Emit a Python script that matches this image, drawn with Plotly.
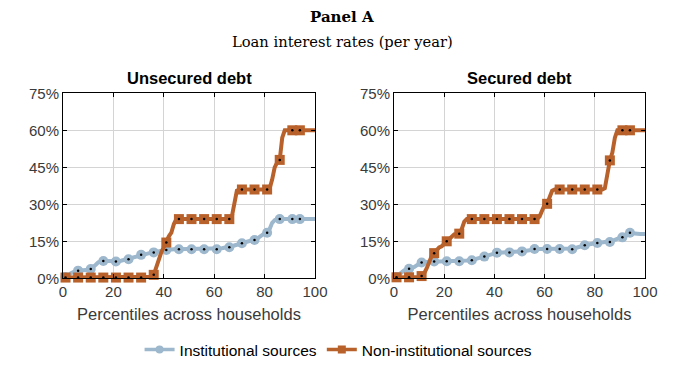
import plotly.graph_objects as go

# Percentiles 0..100
percentiles = list(range(101))

# Unsecured debt - Institutional sources (% per year)
unsec_inst = [0, 0.5, 1.2, 2, 2.7, 3, 3.1, 3.1, 3.2, 3.3,
              3.5, 3.8, 4.5, 5.5, 6.5, 6.9, 7, 7, 6.9, 6.8,
              6.8, 6.8, 6.9, 7.1, 7.4, 7.6, 7.7, 8, 8.5, 9,
              9.3, 9.5, 9.8, 10.1, 10.3, 10.4, 10.5, 10.8, 11.1, 11.3,
              11.4, 11.5, 11.7, 11.8, 11.8, 11.8, 11.8, 11.8, 11.8, 11.8,
              11.8, 11.8, 11.8, 11.8, 11.8, 11.8, 11.8, 11.8, 11.8, 11.8,
              11.8, 11.8, 12, 12.2, 12.4, 12.5, 12.6, 12.9, 13.3, 13.7,
              14, 14.2, 14.5, 14.8, 15.1, 15.3, 15.5, 16, 16.8, 17.6,
              18.2, 18.5, 20, 22.5, 23.6, 24, 24, 24, 24, 24,
              24, 24, 24, 24, 24, 24, 24, 24, 24, 24, 24]

# Unsecured debt - Non-institutional sources
unsec_noninst = [0.3, 0.3, 0.3, 0.3, 0.3, 0.3, 0.3, 0.3, 0.3, 0.3,
                 0.3, 0.3, 0.3, 0.3, 0.3, 0.3, 0.3, 0.3, 0.3, 0.3,
                 0.3, 0.3, 0.3, 0.3, 0.3, 0.3, 0.3, 0.3, 0.3, 0.3,
                 0.3, 0.3, 0.3, 0.3, 0.4, 0.6, 1.4, 4, 7.5, 10.5,
                 12.8, 14.5, 17, 18.5, 22, 24, 24, 24, 24, 24,
                 24, 24, 24, 24, 24, 24, 24, 24, 24, 24,
                 24, 24, 24, 24, 24, 24, 24, 25, 31, 35.5,
                 36, 36, 36, 36, 36, 36, 36, 36, 36, 36,
                 36, 36, 36.5, 40, 45, 47, 48, 57, 60, 60,
                 60, 60, 60, 60, 60, 60, 60, 60, 60, 60, 60]

# Secured debt - Institutional sources
sec_inst = [0, 0.5, 1.5, 2.5, 3.2, 3.7, 3.9, 4.1, 4.5, 5.2,
            5.9, 6.4, 6.6, 6.7, 6.8, 6.8, 6.8, 6.8, 6.8, 6.8,
            6.9, 6.9, 6.9, 6.9, 6.9, 6.9, 6.9, 7, 7.1, 7.2,
            7.3, 7.3, 7.6, 8, 8.4, 8.7, 8.8, 9.1, 9.5, 10,
            10.3, 10.4, 10.4, 10.5, 10.5, 10.5, 10.5, 10.6, 10.7, 10.8,
            10.9, 10.9, 11.1, 11.4, 11.7, 11.9, 11.9, 11.9, 11.9, 11.9,
            11.9, 11.9, 11.9, 11.9, 11.9, 11.9, 11.9, 11.9, 11.8, 11.8,
            11.8, 11.8, 12.1, 12.5, 12.9, 13.2, 13.4, 13.6, 13.9, 14.1,
            14.2, 14.3, 14.4, 14.5, 14.6, 14.7, 14.7, 15.1, 15.6, 16,
            16.3, 16.6, 17.3, 18.1, 18.5, 18.3, 18.1, 18, 18, 18, 18]

# Secured debt - Non-institutional sources
sec_noninst = [0.3, 0.4, 0.4, 0.4, 0.4, 0.4, 0.4, 0.4, 0.4, 0.4,
               0.5, 0.9, 2, 4, 6.5, 9, 10.2, 11.5, 12.5, 13,
               14, 15, 16, 17, 17.8, 18, 18.1, 20, 23, 24,
               24, 24, 24, 24, 24, 24, 24, 24, 24, 24,
               24, 24, 24, 24, 24, 24, 24, 24, 24, 24,
               24, 24, 24, 24, 24, 24, 24, 24, 25, 28,
               29.8, 30.2, 33, 35.5, 36, 36, 36, 36, 36, 36,
               36, 36, 36, 36, 36, 36, 36, 36, 36, 36,
               36, 36, 36, 36, 36.5, 42, 47.8, 51, 57, 60,
               60, 60, 60, 60, 60, 60, 60, 60, 60, 60, 60]

marker_pcts = [1, 6, 11, 16, 21, 26, 31, 36, 41, 46, 51, 56, 61, 66, 71, 76, 81, 86, 91, 94]

series_names = ["Institutional sources", "Non-institutional sources"]
panel_titles = ["Unsecured debt", "Secured debt"]
y_ticks = [0, 15, 30, 45, 60, 75]
y_tick_labels = ["0%", "15%", "30%", "45%", "60%", "75%"]
x_ticks = [0, 20, 40, 60, 80, 100]

BLUE = "#9db7cd"
ORANGE = "#b9612a"

fig = go.Figure()

panels = [("x", "y", unsec_inst, unsec_noninst), ("x2", "y2", sec_inst, sec_noninst)]
for xa, ya, inst, noninst in panels:
    for vals, color, sym, size in [(inst, BLUE, "circle", 10), (noninst, ORANGE, "square", 10)]:
        fig.add_trace(go.Scatter(x=percentiles, y=vals, mode="lines", xaxis=xa, yaxis=ya,
                                 line=dict(color=color, width=4), showlegend=False,
                                 hoverinfo="skip", cliponaxis=False))
        mx = marker_pcts
        my = [vals[p] for p in mx]
        fig.add_trace(go.Scatter(x=mx, y=my, mode="markers", xaxis=xa, yaxis=ya,
                                 marker=dict(color=color, symbol=sym, size=size, line=dict(width=0)),
                                 showlegend=False, cliponaxis=False))
        fig.add_trace(go.Scatter(x=mx, y=my, mode="markers", xaxis=xa, yaxis=ya,
                                 marker=dict(color="black", symbol="circle", size=2.5, line=dict(width=0)),
                                 showlegend=False, cliponaxis=False))

# legend entries
for name, color, sym in [(series_names[0], BLUE, "circle"), (series_names[1], ORANGE, "square")]:
    fig.add_trace(go.Scatter(x=[None], y=[None], mode="lines+markers", name=name,
                             line=dict(color=color, width=3.5),
                             marker=dict(color=color, symbol=sym, size=8)))

W, H = 684, 376
def px_x(v):
    return v / W
def px_y(v):
    return 1 - v / H

tick_font = dict(family="Liberation Sans, Arial, sans-serif", size=15, color="#3a3a3a")
axis_common = dict(showline=True, linecolor="black", linewidth=1, mirror="ticks",
                   showgrid=True, gridcolor="#d4d4d4", gridwidth=1, zeroline=False,
                   ticks="inside", ticklen=4, tickcolor="black", tickfont=tick_font,
                   automargin=False)

for i, (xd, name) in enumerate([((63, 315), "xaxis"), ((394, 645), "xaxis2")]):
    fig.layout[name] = dict(domain=[px_x(xd[0]), px_x(xd[1])], range=[0, 100],
                            tickvals=x_ticks, anchor="y" if i == 0 else "y2",
                            title=dict(text="Percentiles across households",
                                       font=dict(family="Liberation Sans, Arial, sans-serif", size=16.5, color="#3a3a3a"),
                                       standoff=9),
                            **axis_common)
    yname = "yaxis" if i == 0 else "yaxis2"
    fig.layout[yname] = dict(domain=[px_y(278.3), px_y(93.3)], range=[0, 75],
                             tickvals=y_ticks, ticktext=y_tick_labels,
                             anchor="x" if i == 0 else "x2", **axis_common)

annotations = [
    dict(text="<b>Panel A</b>", x=0.5, y=px_y(17), xref="paper", yref="paper", showarrow=False,
         font=dict(family="DejaVu Serif, serif", size=15, color="black"), xanchor="center", yanchor="middle"),
    dict(text="Loan interest rates (per year)", x=0.5, y=px_y(41), xref="paper", yref="paper", showarrow=False,
         font=dict(family="DejaVu Serif, serif", size=14.7, color="black"), xanchor="center", yanchor="middle"),
    dict(text="<b>" + panel_titles[0] + "</b>", x=px_x(189.5), y=px_y(78), xref="paper", yref="paper",
         showarrow=False, font=dict(family="Liberation Sans, Arial, sans-serif", size=16.5, color="black"),
         xanchor="center", yanchor="middle"),
    dict(text="<b>" + panel_titles[1] + "</b>", x=px_x(519.5), y=px_y(78), xref="paper", yref="paper",
         showarrow=False, font=dict(family="Liberation Sans, Arial, sans-serif", size=16.5, color="black"),
         xanchor="center", yanchor="middle"),
]

fig.update_layout(
    width=W, height=H, margin=dict(l=0, r=0, t=0, b=0, autoexpand=False),
    paper_bgcolor="white", plot_bgcolor="white",
    annotations=annotations,
    legend=dict(orientation="h", x=0.495, xanchor="center", y=px_y(350), yanchor="middle",
                font=dict(family="Liberation Sans, Arial, sans-serif", size=15.5, color="black"),
                itemwidth=30, bgcolor="rgba(0,0,0,0)"),
)

fig.write_html("out.html", config={"displayModeBar": False},
               post_script="document.body.style.margin='0';document.body.style.padding='0';")
